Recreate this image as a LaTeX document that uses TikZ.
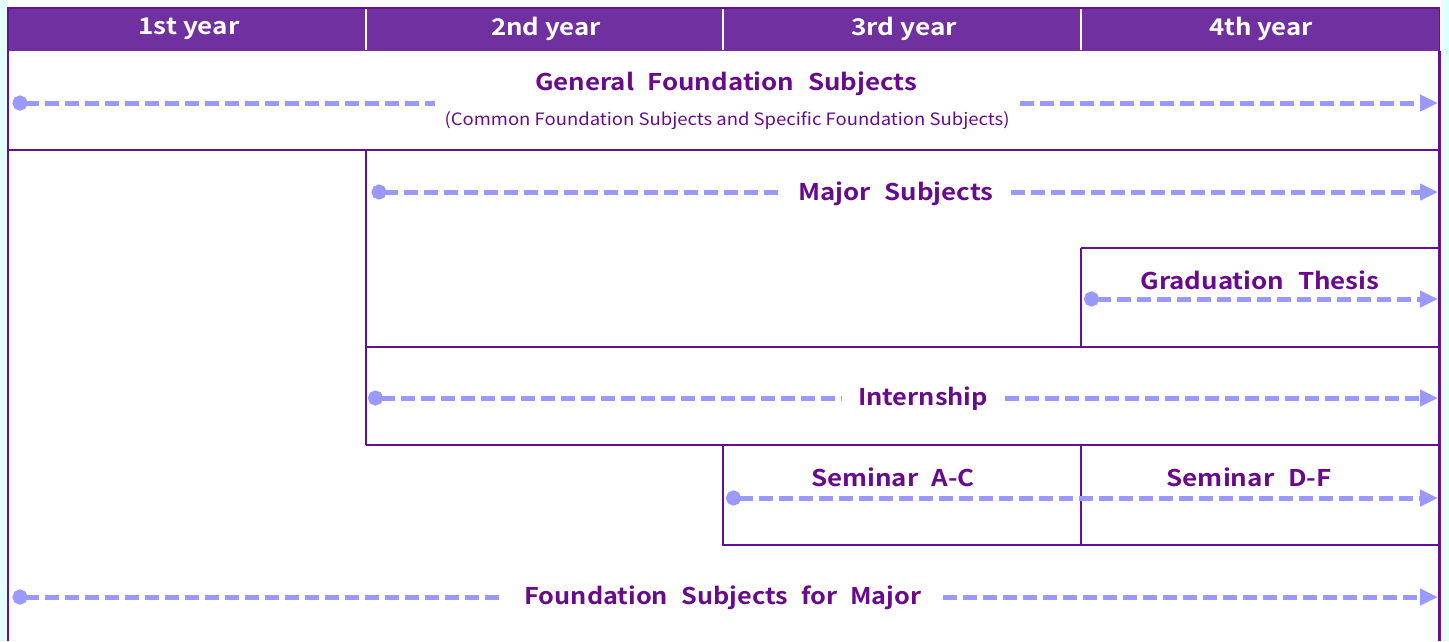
\documentclass[tikz,border=0pt]{standalone}
\usepackage{fontspec}
\usepackage{graphicx}
\setmainfont{Noto Sans CJK JP}[BoldFont={Noto Sans CJK JP Bold}]
\newfontfamily\subfont{Noto Sans CJK JP}
\usetikzlibrary{arrows.meta}
\definecolor{hdr}{RGB}{112,48,160}
\definecolor{frm}{RGB}{100,16,148}
\definecolor{txt}{RGB}{105,10,140}
\definecolor{arr}{RGB}{153,153,255}
\definecolor{cyanbg}{RGB}{228,255,255}
\newsavebox\fitbox
\newcommand\fitto[2]{\sbox\fitbox{#2}\pgfmathsetmacro\fitratio{#1/\the\wd\fitbox}\scalebox{\fitratio}[1]{\usebox\fitbox}}
\newcommand\ws{\hspace{12pt}}
\tikzset{
  grid/.style={draw=frm, line width=2.5pt},
  hdrtext/.style={text=white, font=\fontsize{23}{26}\selectfont\bfseries, inner sep=0pt},
  title/.style={text=txt, font=\fontsize{23}{27}\selectfont\bfseries, inner ysep=0pt},
  subtitle/.style={text=txt, font=\subfont\fontsize{17}{20}\selectfont, inner sep=0pt},
  flow/.style={draw=arr, line width=5pt, dash pattern=on 14pt off 6pt},
  dotstart/.style={{Circle[length=15pt,width=15pt]}-},
  tipend/.style={-{Triangle[length=18pt,width=16pt]}},
  bothends/.style={{Circle[length=15pt,width=15pt]}-{Triangle[length=18pt,width=16pt]}}
}
\begin{document}
\begin{tikzpicture}[x=1pt,y=-1pt]
\useasboundingbox (0,0) rectangle (1449,641);
\fill[cyanbg] (0,0) rectangle (1449,641);
\fill[white] (7.5,0) rectangle (1441,641);
% header
\fill[hdr] (8,8) rectangle (1439.5,51);
\draw[frm, line width=1.5pt] (8,51) -- (8,8) -- (1439.5,8) -- (1439.5,51);
\draw[white, line width=2pt] (366,9) -- (366,50);
\draw[white, line width=2pt] (723,9) -- (723,50);
\draw[white, line width=2pt] (1081,9) -- (1081,50);
\node[hdrtext] (y1) at (189,29) {\fitto{101}{1st year}};
\node[hdrtext] (y2) at (546,29) {\fitto{110}{2nd year}};
\node[hdrtext] (y3) at (904,29) {\fitto{106}{3rd year}};
\node[hdrtext] (y4) at (1261,29) {\fitto{104}{4th year}};
% frame lines
\draw[grid] (8,51) -- (8,641);
\draw[grid] (1439.5,51) -- (1439.5,641);
\draw[grid] (8,150) -- (1439.5,150);
\draw[grid] (366,150) -- (366,445);
\draw[grid] (366,347) -- (1439.5,347);
\draw[grid] (366,445) -- (1439.5,445);
\draw[grid] (1081,248) -- (1439.5,248);
\draw[grid] (1081,248) -- (1081,347);
\draw[grid] (723,445) -- (723,545) -- (1439.5,545);
\draw[grid] (1081,445) -- (1081,545);
% General foundation
\node[title] (gen) at (726,84) {\fitto{382}{General\ws Foundation\ws Subjects}};
\node[subtitle] (gensub) at (727,121) {\fitto{565}{(Common Foundation Subjects and Specific Foundation Subjects)}};
\coordinate (genA) at (12.5,103);
\coordinate (genB) at (435,103);
\coordinate (genC) at (1020,103);
\coordinate (genD) at (1438,103);
\draw[flow, dotstart] (genA) -- (genB);
\draw[flow, tipend] (genC) -- (genD);
% Major
\coordinate (majA) at (371.5,192);
\coordinate (majD) at (1438,192);
\node[title, inner xsep=17pt] (maj) at (896,194) {\fitto{195}{Major\ws Subjects}};
\draw[flow, dotstart] (majA) -- (maj.west |- majA);
\draw[flow, tipend] (maj.east |- majD) -- (majD);
% Graduation thesis
\node[title] (grad) at (1260,280) {\fitto{239}{Graduation\ws Thesis}};
\coordinate (gradA) at (1084,299);
\coordinate (gradD) at (1438,299);
\draw[flow, bothends] (gradA) -- (gradD);
% Internship
\coordinate (intA) at (368,398);
\coordinate (intD) at (1438,398);
\node[title, inner xsep=17pt] (int) at (923,399) {\fitto{130}{Internship}};
\draw[flow, dotstart] (intA) -- (int.west |- intA);
\draw[flow, tipend] (int.east |- intD) -- (intD);
% Seminars
\node[title] (semA) at (893,477) {\fitto{164}{Seminar\ws A-C}};
\node[title] (semD) at (1249,477) {\fitto{165}{Seminar\ws D-F}};
\coordinate (semS) at (726,498);
\coordinate (semE) at (1438,498);
\draw[flow, bothends] (semS) -- (semE);
% Foundation for major
\coordinate (fndA) at (12.5,597);
\coordinate (fndD) at (1438,597);
\node[title, inner xsep=21pt] (fnd) at (723,598) {\fitto{397}{Foundation\ws Subjects\ws for\ws Major}};
\draw[flow, dotstart] (fndA) -- (fnd.west |- fndA);
\draw[flow, tipend] (fnd.east |- fndD) -- (fndD);
\end{tikzpicture}
\end{document}
